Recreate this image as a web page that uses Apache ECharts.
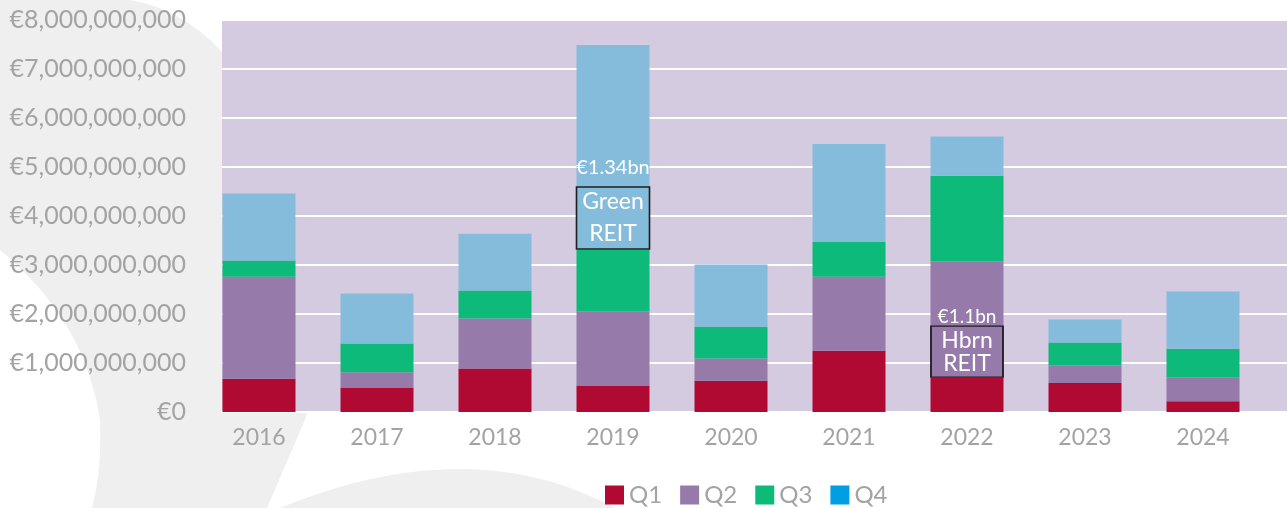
<!DOCTYPE html>
<html>
<head>
<meta charset="utf-8">
<script src="https://cdn.jsdelivr.net/npm/echarts@6/dist/echarts.min.js"></script>
<style>
html,body{margin:0;padding:0;background:#fff;}
#c{width:1287px;height:508px;}
</style>
</head>
<body>
<div id="c"></div>
<script>
const categories = ['2016','2017','2018','2019','2020','2021','2022','2023','2024'];
const q1 = [680000000, 500000000, 890000000, 540000000, 640000000, 1250000000, 700000000, 590000000, 220000000];
const q2 = [2080000000, 310000000, 1020000000, 1510000000, 450000000, 1510000000, 2370000000, 360000000, 490000000];
const q3 = [330000000, 590000000, 570000000, 1260000000, 650000000, 710000000, 1750000000, 470000000, 580000000];
const q4 = [1370000000, 1020000000, 1160000000, 4180000000, 1270000000, 2000000000, 800000000, 470000000, 1170000000];
const seriesNames = ['Q1','Q2','Q3','Q4'];
const yMin = 0, yMax = 8000000000, yInterval = 1000000000;

// annotations
const annotCats = ['2019', '2022'];
const annotAmounts = ['€1.34bn', '€1.1bn'];
const annotAmountLevels = [4980000000, 1950000000];
const annotNames = ['Green\nREIT', 'Hbrn\nREIT'];
const annotBoxLevels = [3960000000, 1230000000];

const colors = ['#b00932', '#957aaa', '#0dba7a', '#85bcdb'];
const legendColors = ['#b00932', '#957aaa', '#0dba7a', '#009fe3'];
const txt = '#a3a3a3';
const font = 'Lato, "Open Sans", sans-serif';

const boxSizes = [[73, 62], [72, 51]];
const boxLineHeights = [32, 23];
const amountSizes = [20, 19];

// background decoration helpers (sampled bezier curves)
function quad(p0, p1, p2, n) {
  const out = [];
  for (let i = 0; i <= n; i++) {
    const t = i / n, a = (1 - t) * (1 - t), b = 2 * (1 - t) * t, c = t * t;
    out.push([a * p0[0] + b * p1[0] + c * p2[0], a * p0[1] + b * p1[1] + c * p2[1]]);
  }
  return out;
}
function cubic(p0, p1, p2, p3, n) {
  const out = [];
  for (let i = 0; i <= n; i++) {
    const t = i / n, u = 1 - t;
    const a = u * u * u, b = 3 * u * u * t, c = 3 * u * t * t, d = t * t * t;
    out.push([a * p0[0] + b * p1[0] + c * p2[0] + d * p3[0], a * p0[1] + b * p1[1] + c * p2[1] + d * p3[1]]);
  }
  return out;
}
const leftShape = [[0, 0]]
  .concat(cubic([130, 0], [190, 10], [260, 60], [290, 200], 30))
  .concat([[307, 415], [267, 508], [92, 508]])
  .concat(quad([92, 508], [102, 470], [100, 420], 12))
  .concat(quad([100, 420], [85, 320], [0, 250], 20));
const bottomShape = quad([280, 508], [470, 430], [615, 508], 40);

const markData = [];
annotCats.forEach((c, i) => {
  markData.push({
    coord: [c, annotAmountLevels[i]],
    symbol: 'rect', symbolSize: [1, 1],
    itemStyle: { color: 'rgba(0,0,0,0)' },
    label: { show: true, position: 'inside', formatter: annotAmounts[i], color: '#fff', fontSize: amountSizes[i], fontFamily: font }
  });
  markData.push({
    coord: [c, annotBoxLevels[i]],
    symbol: 'rect', symbolSize: boxSizes[i],
    itemStyle: { color: 'rgba(0,0,0,0)', borderColor: '#1e1e1e', borderWidth: 1.5 },
    label: { show: true, position: 'inside', formatter: annotNames[i], color: '#fff', fontSize: 23, lineHeight: boxLineHeights[i], fontFamily: font }
  });
});

const data = [q1, q2, q3, q4];
const series = data.map((d, i) => {
  const s = {
    name: seriesNames[i], type: 'bar', stack: 'total',
    xAxisIndex: 1, yAxisIndex: 1,
    barWidth: 73, data: d,
    itemStyle: { color: colors[i] },
    silent: true
  };
  if (i === 3) {
    s.markPoint = { silent: true, animation: false, data: markData };
  }
  return s;
});

const chart = echarts.init(document.getElementById('c'));
chart.setOption({
  animation: false,
  backgroundColor: '#ffffff',
  textStyle: { fontFamily: font },
  graphic: [
    { type: 'polygon', z: -10, shape: { points: leftShape }, style: { fill: '#efefef' } },
    { type: 'polygon', z: -10, shape: { points: bottomShape }, style: { fill: '#efefef' } }
  ],
  grid: [
    { left: 222, right: 0, top: 20, bottom: 96, show: true, backgroundColor: '#d5cbe0', borderWidth: 0 },
    { left: 200, width: 1062, top: 20, bottom: 96 }
  ],
  legend: {
    left: 605, top: 483, padding: 0, itemWidth: 19, itemHeight: 19, itemGap: 18,
    icon: 'rect',
    textStyle: { color: txt, fontSize: 24, fontFamily: font },
    data: seriesNames.map((n, i) => ({ name: n, itemStyle: { color: legendColors[i] } }))
  },
  xAxis: [
    { type: 'category', gridIndex: 0, data: categories,
      axisLine: { show: true, lineStyle: { color: '#ffffff', width: 2 } },
      axisTick: { show: false }, axisLabel: { show: false }, splitLine: { show: false } },
    { type: 'category', gridIndex: 1, data: categories,
      axisLine: { show: false }, axisTick: { show: false },
      axisLabel: { color: txt, fontSize: 23, margin: 14, fontFamily: font } }
  ],
  yAxis: [
    { type: 'value', gridIndex: 0, min: yMin, max: yMax, interval: yInterval,
      axisLine: { show: false }, axisTick: { show: false },
      axisLabel: { color: txt, fontSize: 25, margin: 36, fontFamily: font,
        formatter: v => '€' + Number(v).toLocaleString('en-US') },
      splitLine: { show: true, lineStyle: { color: '#ffffff', width: 2 } } },
    { type: 'value', gridIndex: 1, min: yMin, max: yMax, interval: yInterval, show: false,
      splitLine: { show: false } }
  ],
  series: series
});
</script>
</body>
</html>
